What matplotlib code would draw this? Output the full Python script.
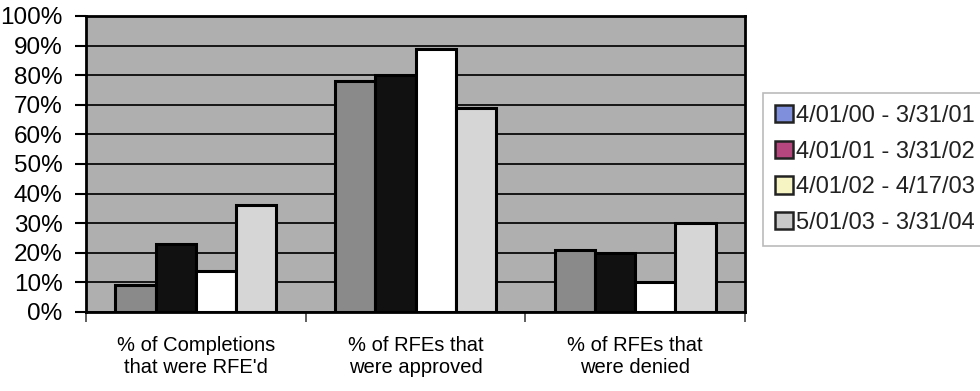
import numpy as np
import matplotlib.pyplot as plt
from matplotlib.patches import Patch
from matplotlib.ticker import PercentFormatter

# RFE statistics by reporting period
categories = ["% of Completions\nthat were RFE'd",
              "% of RFEs that\nwere approved",
              "% of RFEs that\nwere denied"]
periods = ["4/01/00 - 3/31/01", "4/01/01 - 3/31/02",
           "4/01/02 - 4/17/03", "5/01/03 - 3/31/04"]
values = [
    [9, 78, 21],    # 4/01/00 - 3/31/01
    [23, 80, 20],   # 4/01/01 - 3/31/02
    [14, 89, 10],   # 4/01/02 - 4/17/03
    [36, 69, 30],   # 5/01/03 - 3/31/04
]

bar_colors = ["#8a8a8a", "#111111", "#ffffff", "#d6d6d6"]
key_colors = ["#7f8fdc", "#b5467e", "#f7f4c4", "#c9c9c9"]

plt.rcParams['font.family'] = ['Liberation Sans', 'DejaVu Sans']

fig = plt.figure(figsize=(9.8, 3.91), dpi=100)
ax = fig.add_axes([86 / 980, 1 - 312 / 391, (745 - 86) / 980, (312 - 16) / 391])
ax.set_facecolor("#afafaf")

x = np.arange(len(categories))
w = 0.183
for i, (vals, col) in enumerate(zip(values, bar_colors)):
    ax.bar(x + (i - 1.5) * w, vals, w, color=col, edgecolor="black",
           linewidth=2.2, zorder=3)

ax.set_xlim(-0.5, 2.5)
ax.set_ylim(0, 100)
ax.set_yticks(np.arange(0, 101, 10))
ax.yaxis.set_major_formatter(PercentFormatter(decimals=0))
ax.grid(axis="y", color="#151515", linewidth=1.4, zorder=1)
ax.set_axisbelow(True)

ax.set_xticks(x)
ax.set_xticklabels(categories, fontsize=14.5, linespacing=1.2)
ax.set_xticks([-0.5, 0.5, 1.5, 2.5], minor=True)
ax.tick_params(axis="x", which="major", length=0, pad=17)
ax.tick_params(axis="x", which="minor", length=7, width=1.2, color="#444444")
ax.tick_params(axis="y", length=8, width=1.5, pad=9, labelsize=17.5)

for side in ["left", "right", "bottom", "top"]:
    ax.spines[side].set_linewidth(2)
    ax.spines[side].set_color("black")

handles = [Patch(facecolor=c, edgecolor="#222222", linewidth=1.8) for c in key_colors]
leg = fig.legend(handles, periods, loc="upper left",
                 bbox_to_anchor=(763 / 980, 1 - 93 / 391),
                 fontsize=17, frameon=True, fancybox=False,
                 handlelength=0.75, handleheight=0.75, handletextpad=0.15,
                 labelspacing=0.58, borderpad=0.5, borderaxespad=0)
leg.get_frame().set_edgecolor("#aaaaaa")
leg.get_frame().set_linewidth(1.2)
for t in leg.get_texts():
    t.set_color("#222222")

fig.savefig("out.png", dpi=100)
